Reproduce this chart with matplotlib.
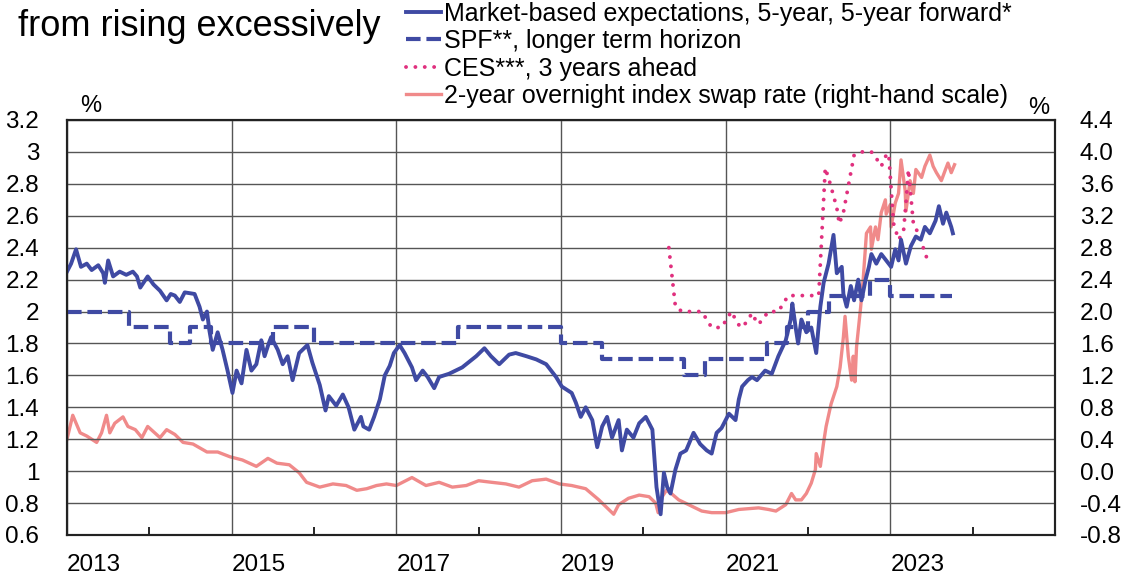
import numpy as np
import matplotlib.pyplot as plt

plt.rcParams['font.family'] = ['Liberation Sans', 'DejaVu Sans']
plt.rcParams['axes.unicode_minus'] = False

# Market-based expectations, 5y5y forward (% , left scale)
mkt_x = [2013.00, 2013.05, 2013.11, 2013.17, 2013.24, 2013.30, 2013.38, 2013.44, 2013.46, 2013.50,
         2013.56, 2013.64, 2013.72, 2013.80, 2013.85, 2013.89, 2013.98, 2014.05, 2014.13, 2014.21,
         2014.26, 2014.31, 2014.37, 2014.43, 2014.55, 2014.61, 2014.65, 2014.70, 2014.73, 2014.77,
         2014.83, 2014.89, 2014.95, 2015.01, 2015.06, 2015.12, 2015.18, 2015.24, 2015.30, 2015.36,
         2015.40, 2015.45, 2015.48, 2015.56, 2015.62, 2015.68, 2015.74, 2015.82, 2015.92, 2015.98,
         2016.07, 2016.14, 2016.18, 2016.27, 2016.35, 2016.42, 2016.49, 2016.57, 2016.60, 2016.67,
         2016.73, 2016.80, 2016.86, 2016.92, 2016.97, 2017.04, 2017.10, 2017.19, 2017.24, 2017.32,
         2017.38, 2017.46, 2017.52, 2017.64, 2017.80, 2017.97, 2018.07, 2018.15, 2018.25, 2018.37,
         2018.45, 2018.58, 2018.70, 2018.82, 2018.94, 2019.01, 2019.13, 2019.18, 2019.24, 2019.30,
         2019.38, 2019.44, 2019.50, 2019.56, 2019.62, 2019.70, 2019.74, 2019.80, 2019.88, 2019.95,
         2020.03, 2020.11, 2020.16, 2020.21, 2020.25, 2020.29, 2020.33, 2020.39, 2020.45, 2020.52,
         2020.61, 2020.69, 2020.77, 2020.83, 2020.89, 2020.95, 2021.04, 2021.12, 2021.16, 2021.20,
         2021.27, 2021.32, 2021.38, 2021.48, 2021.56, 2021.64, 2021.73, 2021.79, 2021.81, 2021.85,
         2021.88, 2021.92, 2021.98, 2022.04, 2022.10, 2022.15, 2022.19, 2022.25, 2022.31, 2022.35,
         2022.41, 2022.43, 2022.47, 2022.52, 2022.56, 2022.61, 2022.65, 2022.70, 2022.74, 2022.77,
         2022.83, 2022.89, 2022.95, 2023.01, 2023.06, 2023.10, 2023.13, 2023.19, 2023.25, 2023.31,
         2023.37, 2023.42, 2023.48, 2023.55, 2023.59, 2023.64, 2023.68, 2023.74, 2023.76]
mkt_y = [2.25, 2.30, 2.39, 2.28, 2.30, 2.26, 2.29, 2.24, 2.18, 2.32,
         2.22, 2.25, 2.23, 2.25, 2.22, 2.15, 2.22, 2.17, 2.13, 2.07,
         2.11, 2.10, 2.06, 2.12, 2.11, 2.03, 1.95, 2.00, 1.88, 1.76,
         1.87, 1.76, 1.63, 1.49, 1.63, 1.55, 1.76, 1.63, 1.67, 1.82,
         1.72, 1.80, 1.84, 1.76, 1.67, 1.72, 1.57, 1.74, 1.79, 1.68,
         1.54, 1.38, 1.47, 1.41, 1.48, 1.40, 1.26, 1.34, 1.28, 1.26,
         1.34, 1.45, 1.60, 1.66, 1.74, 1.79, 1.74, 1.65, 1.57, 1.63,
         1.59, 1.52, 1.59, 1.61, 1.65, 1.72, 1.77, 1.72, 1.67, 1.73,
         1.74, 1.72, 1.70, 1.67, 1.59, 1.53, 1.49, 1.43, 1.34, 1.40,
         1.32, 1.15, 1.28, 1.34, 1.21, 1.32, 1.13, 1.26, 1.21, 1.30,
         1.34, 1.26, 0.90, 0.73, 0.99, 0.90, 0.86, 1.01, 1.11, 1.13,
         1.24, 1.17, 1.13, 1.11, 1.24, 1.27, 1.36, 1.32, 1.45, 1.53,
         1.57, 1.59, 1.57, 1.63, 1.61, 1.72, 1.82, 1.95, 2.05, 1.90,
         1.80, 1.95, 1.87, 1.90, 1.74, 2.03, 2.18, 2.30, 2.48, 2.24,
         2.28, 2.11, 2.03, 2.16, 2.07, 2.20, 2.07, 2.20, 2.28, 2.36,
         2.30, 2.36, 2.32, 2.28, 2.39, 2.32, 2.45, 2.30, 2.41, 2.47,
         2.45, 2.53, 2.49, 2.57, 2.66, 2.55, 2.62, 2.53, 2.49]

# SPF longer-term horizon (step series, left scale)
spf_x = [2013.0, 2013.75, 2014.25, 2014.5, 2014.75, 2015.5, 2016.0, 2017.75, 2019.0, 2019.5,
         2020.5, 2020.75, 2021.5, 2021.75, 2022.0, 2022.25, 2022.75, 2023.0, 2023.75]
spf_y = [2.0, 1.9, 1.8, 1.9, 1.8, 1.9, 1.8, 1.9, 1.8, 1.7,
         1.6, 1.7, 1.8, 1.9, 2.0, 2.1, 2.2, 2.1, 2.1]

# CES 3 years ahead (left scale)
ces_x = [2020.31, 2020.39, 2020.47, 2020.71, 2020.77, 2020.83, 2020.95, 2021.01, 2021.07, 2021.12,
         2021.18, 2021.25, 2021.32, 2021.36, 2021.40, 2021.52, 2021.64, 2021.70, 2021.76, 2022.13,
         2022.21, 2022.27, 2022.35, 2022.38, 2022.43, 2022.52, 2022.56, 2022.65, 2022.77, 2022.83,
         2022.89, 2022.95, 2022.98, 2023.04, 2023.10, 2023.16, 2023.19, 2023.22, 2023.28, 2023.34,
         2023.40, 2023.44]
ces_y = [2.40, 2.03, 2.00, 2.00, 1.95, 1.90, 1.90, 1.95, 2.00, 1.95,
         1.90, 1.93, 1.99, 1.95, 1.92, 2.00, 2.00, 2.05, 2.10, 2.10,
         2.90, 2.80, 2.65, 2.55, 2.62, 2.87, 2.98, 3.00, 3.00, 2.96,
         2.91, 2.98, 2.99, 2.55, 2.45, 2.50, 2.68, 2.89, 2.55, 2.49,
         2.40, 2.34]

# 2-year OIS rate (right scale)
ois_x = [2013.00, 2013.07, 2013.16, 2013.24, 2013.36, 2013.42, 2013.48, 2013.52, 2013.58, 2013.68,
         2013.74, 2013.83, 2013.91, 2013.98, 2014.13, 2014.21, 2014.31, 2014.41, 2014.53, 2014.70,
         2014.83, 2014.98, 2015.13, 2015.30, 2015.44, 2015.55, 2015.70, 2015.82, 2015.91, 2016.07,
         2016.23, 2016.39, 2016.52, 2016.64, 2016.76, 2016.88, 2017.00, 2017.19, 2017.36, 2017.52,
         2017.68, 2017.85, 2018.00, 2018.16, 2018.33, 2018.49, 2018.65, 2018.82, 2018.98, 2019.13,
         2019.30, 2019.46, 2019.58, 2019.64, 2019.70, 2019.82, 2019.95, 2020.07, 2020.15, 2020.18,
         2020.23, 2020.28, 2020.34, 2020.43, 2020.55, 2020.71, 2020.83, 2021.00, 2021.16, 2021.28,
         2021.40, 2021.52, 2021.61, 2021.73, 2021.80, 2021.85, 2021.92, 2021.98, 2022.04, 2022.09,
         2022.10, 2022.15, 2022.19, 2022.22, 2022.28, 2022.35, 2022.39, 2022.43, 2022.45, 2022.49,
         2022.53, 2022.55, 2022.57, 2022.59, 2022.64, 2022.67, 2022.71, 2022.76, 2022.77, 2022.82,
         2022.85, 2022.89, 2022.94, 2022.95, 2023.00, 2023.01, 2023.06, 2023.10, 2023.13, 2023.18,
         2023.19, 2023.24, 2023.28, 2023.31, 2023.38, 2023.42, 2023.48, 2023.52, 2023.56, 2023.62,
         2023.67, 2023.70, 2023.74, 2023.78]
ois_y = [0.40, 0.70, 0.48, 0.44, 0.36, 0.48, 0.70, 0.48, 0.60, 0.68,
         0.56, 0.52, 0.42, 0.56, 0.42, 0.52, 0.46, 0.36, 0.34, 0.24,
         0.24, 0.18, 0.14, 0.06, 0.16, 0.10, 0.08, -0.02, -0.14, -0.20,
         -0.16, -0.18, -0.24, -0.22, -0.18, -0.16, -0.18, -0.08, -0.18, -0.14,
         -0.20, -0.18, -0.12, -0.14, -0.16, -0.20, -0.12, -0.10, -0.16, -0.18,
         -0.22, -0.36, -0.48, -0.54, -0.42, -0.34, -0.30, -0.32, -0.40, -0.52,
         -0.32, -0.24, -0.28, -0.36, -0.42, -0.50, -0.52, -0.52, -0.48, -0.47,
         -0.46, -0.48, -0.50, -0.42, -0.28, -0.36, -0.36, -0.28, -0.15, 0.02,
         0.22, 0.06, 0.36, 0.56, 0.84, 1.06, 1.30, 1.68, 1.94, 1.44,
         1.14, 1.44, 1.12, 1.56, 2.06, 2.40, 2.98, 3.06, 2.78, 3.06,
         2.90, 3.24, 3.40, 3.22, 3.34, 3.06, 3.36, 3.48, 3.90, 3.52,
         3.26, 3.64, 3.48, 3.78, 3.68, 3.82, 3.96, 3.82, 3.74, 3.64,
         3.78, 3.86, 3.74, 3.84]

left_ticks = [0.6, 0.8, 1.0, 1.2, 1.4, 1.6, 1.8, 2.0, 2.2, 2.4, 2.6, 2.8, 3.0, 3.2]
right_ticks = [-0.8, -0.4, 0.0, 0.4, 0.8, 1.2, 1.6, 2.0, 2.4, 2.8, 3.2, 3.6, 4.0, 4.4]
year_labels = [2013, 2015, 2017, 2019, 2021, 2023]

blue = '#3f4aa3'
pink = '#f08a8a'
magenta = '#e0307e'

fig = plt.figure(figsize=(11.24, 5.78), dpi=100)
ax = fig.add_axes([0.0596, 0.0744, 0.879, 0.718])
ax2 = ax.twinx()
ax.set_zorder(ax2.get_zorder() + 1)
ax.patch.set_visible(False)

l4, = ax2.plot(ois_x, ois_y, color=pink, lw=2.4,
               label='2-year overnight index swap rate (right-hand scale)')
l2, = ax.plot(spf_x, spf_y, color=blue, lw=3.0, drawstyle='steps-post',
              dashes=(3.5, 1.4), label='SPF**, longer term horizon')
l3, = ax.plot(ces_x, ces_y, color=magenta, lw=2.8, linestyle=(0, (0.01, 2.4)),
              dash_capstyle='round', label='CES***, 3 years ahead')
l1, = ax.plot(mkt_x, mkt_y, color=blue, lw=2.8,
              label='Market-based expectations, 5-year, 5-year forward*')

ax.set_xlim(2013, 2025)
ax.set_ylim(0.6, 3.2)
ax2.set_ylim(-0.8, 4.4)

ax.set_yticks(left_ticks)
ax.set_yticklabels([f'{v:g}' for v in left_ticks])
ax2.set_yticks(right_ticks)
ax2.set_yticklabels([f'{v:.1f}' for v in right_ticks])
ax.set_xticks(year_labels)
ax.set_xticklabels([str(y) for y in year_labels], ha='left')
ax.set_xticks(range(2014, 2025, 2), minor=True)

ax.grid(True, which='major', color='#555555', lw=1.0)
ax.tick_params(axis='x', which='major', length=0, pad=14, labelsize=17.5)
ax.tick_params(axis='x', which='minor', direction='in', length=6, width=1.2)
ax.tick_params(axis='y', length=0, pad=20, labelsize=17.5)
ax2.tick_params(axis='y', length=0, pad=18, labelsize=17.5)
for a in (ax, ax2):
    for s in a.spines.values():
        s.set_linewidth(1.5)
        s.set_color('#222222')

fig.text(0.071, 0.817, '%', fontsize=17, ha='left', va='center')
fig.text(0.915, 0.813, '%', fontsize=17, ha='left', va='center')
fig.text(0.016, 0.955, 'from rising excessively', fontsize=26, ha='left', va='center')

fig.legend(handles=[l1, l2, l3, l4], loc='upper left', bbox_to_anchor=(0.361, 0.997),
           frameon=False, fontsize=18, handlelength=1.4, handletextpad=0.12,
           labelspacing=0.14, borderpad=0.0, borderaxespad=0.0)

fig.savefig('out.png', dpi=100)
